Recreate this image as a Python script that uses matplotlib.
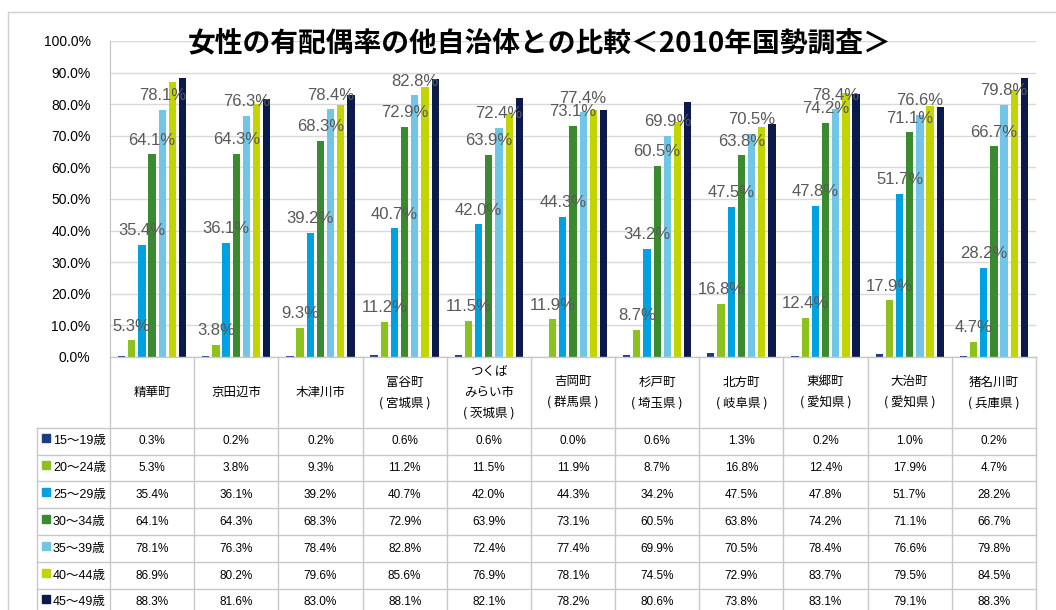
import numpy as np
import matplotlib
matplotlib.use('Agg')
import matplotlib.pyplot as plt
from matplotlib.lines import Line2D
from matplotlib.patches import Rectangle

plt.rcParams['font.family'] = ['Liberation Sans', 'Noto Sans CJK JP']

# data
towns = ['精華町', '京田辺市', '木津川市', '富谷町\n( 宮城県 )', 'つくば\nみらい市\n( 茨城県 )',
         '吉岡町\n( 群馬県 )', '杉戸町\n( 埼玉県 )', '北方町\n( 岐阜県 )', '東郷町\n( 愛知県 )',
         '大治町\n( 愛知県 )', '猪名川町\n( 兵庫県 )']
ages = ['15～19歳', '20～24歳', '25～29歳', '30～34歳', '35～39歳', '40～44歳', '45～49歳']
r15 = [0.3, 0.2, 0.2, 0.6, 0.6, 0.0, 0.6, 1.3, 0.2, 1.0, 0.2]
r20 = [5.3, 3.8, 9.3, 11.2, 11.5, 11.9, 8.7, 16.8, 12.4, 17.9, 4.7]
r25 = [35.4, 36.1, 39.2, 40.7, 42.0, 44.3, 34.2, 47.5, 47.8, 51.7, 28.2]
r30 = [64.1, 64.3, 68.3, 72.9, 63.9, 73.1, 60.5, 63.8, 74.2, 71.1, 66.7]
r35 = [78.1, 76.3, 78.4, 82.8, 72.4, 77.4, 69.9, 70.5, 78.4, 76.6, 79.8]
r40 = [86.9, 80.2, 79.6, 85.6, 76.9, 78.1, 74.5, 72.9, 83.7, 79.5, 84.5]
r45 = [88.3, 81.6, 83.0, 88.1, 82.1, 78.2, 80.6, 73.8, 83.1, 79.1, 88.3]
series = [r15, r20, r25, r30, r35, r40, r45]
colors = ['#1C3A87', '#8CC11E', '#00A1E0', '#3C8A30', '#71C6E8', '#C2D500', '#0B1A4B']
labelled = [1, 2, 3, 4]

W, H = 1056, 610
def fx(x): return x / W
def fy(y): return 1 - y / H

fig = plt.figure(figsize=(W / 100, H / 100), dpi=100)
ax = fig.add_axes([fx(110), fy(357), fx(1036) - fx(110), fy(41) - fy(357)])

n = len(towns)
x = np.arange(n)
slot = 0.121
bw = 0.087
for i, vals in enumerate(series):
    pos = x + (i - 3) * slot
    ax.bar(pos, np.array(vals) / 100, bw, color=colors[i], zorder=3)
    if i in labelled:
        for p, v in zip(pos, vals):
            ax.annotate('%.1f%%' % v, (p, v / 100), xytext=(0, 7), textcoords='offset points',
                        ha='center', va='baseline', fontsize=12, color='#595959', zorder=4)

ax.set_xlim(-0.5, n - 0.5)
ax.set_ylim(0, 1.0)
ax.set_yticks(np.arange(0, 1.01, 0.1))
ax.set_yticklabels(['%.1f%%' % (t * 100) for t in np.arange(0, 1.01, 0.1)])
ax.tick_params(axis='y', length=0, pad=14, labelsize=10)
ax.set_xticks([])
ax.grid(axis='y', color='#D9D9D9', lw=1, zorder=0)
for s in ['top', 'right', 'bottom']:
    ax.spines[s].set_visible(False)
ax.spines['left'].set_color('#BFBFBF')

fig.text(fx(540), fy(43), '女性の有配偶率の他自治体との比較＜2010年国勢調査＞',
         ha='center', va='center', fontsize=20, fontweight='bold',
         family=['Noto Sans CJK JP'])

# outer chart frame
lc = '#D0D0D0'
fig.add_artist(Line2D([fx(8), fx(8)], [fy(12), 0], color=lc, lw=1))
fig.add_artist(Line2D([fx(8), 1], [fy(12), fy(12)], color=lc, lw=1))

# data table
col_edges = [110 + k * (1036 - 110) / n for k in range(n + 1)]
head_top, head_bot = 357, 427.6
rh = 26.9
row_edges = [head_bot + k * rh for k in range(len(ages) + 1)]
tc = '#C8C8C8'
fig.add_artist(Line2D([fx(110), fx(1036)], [fy(head_top)] * 2, color=tc, lw=1))
for yy in row_edges:
    fig.add_artist(Line2D([fx(37), fx(1036)], [fy(yy)] * 2, color=tc, lw=1))
for xx in col_edges:
    fig.add_artist(Line2D([fx(xx)] * 2, [fy(head_top), 0], color=tc, lw=1))
fig.add_artist(Line2D([fx(37)] * 2, [fy(head_bot), 0], color=tc, lw=1))

for j, t in enumerate(towns):
    cx = (col_edges[j] + col_edges[j + 1]) / 2
    fig.text(fx(cx), fy((head_top + head_bot) / 2), t, ha='center', va='center',
             fontsize=9, linespacing=1.75, family=['Noto Sans CJK JP'])

for i, a in enumerate(ages):
    cy = (row_edges[i] + row_edges[i + 1]) / 2
    fig.add_artist(Rectangle((fx(42), fy(cy + 1)), fx(8), fy(0) - fy(8),
                             color=colors[i], transform=fig.transFigure))
    fig.text(fx(53), fy(cy), a, ha='left', va='center', fontsize=9,
             family=['Liberation Sans', 'Noto Sans CJK JP'])
    for j, v in enumerate(series[i]):
        cx = (col_edges[j] + col_edges[j + 1]) / 2
        fig.text(fx(cx), fy(cy), '%.1f%%' % v, ha='center', va='center', fontsize=8.5)

fig.savefig('out.png', dpi=100)
